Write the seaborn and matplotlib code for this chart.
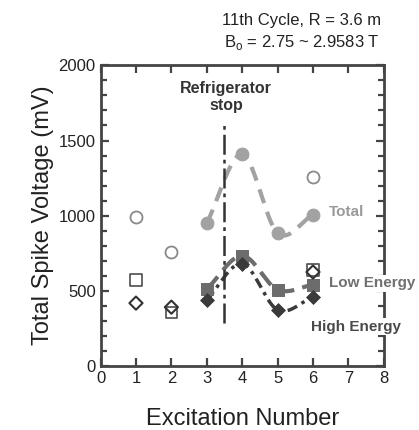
import numpy as np
import matplotlib
matplotlib.use("Agg")
import matplotlib.pyplot as plt
import seaborn as sns
from matplotlib.ticker import MultipleLocator

# open symbols: excitations before / unrelated to the fit
open_x = [1, 2, 6]
open_total = [990, 755, 1258]
open_low = [573, 355, 640]
open_high = [418, 391, 625]

# filled symbols: excitations fitted with the dashed curves
fit_x = [3, 4, 5, 6]
total = [951, 1407, 885, 1007]
low_energy = [511, 733, 507, 540]
high_energy = [440, 680, 373, 458]


def smooth(x, y, n=120):
    # cardinal (Catmull-Rom) spline through the points
    x = np.asarray(x, float)
    y = np.asarray(y, float)
    m = np.gradient(y, x)
    xs, ys = [], []
    for i in range(len(x) - 1):
        h = x[i + 1] - x[i]
        t = np.linspace(0, 1, n)
        h00 = 2 * t**3 - 3 * t**2 + 1
        h10 = t**3 - 2 * t**2 + t
        h01 = -2 * t**3 + 3 * t**2
        h11 = t**3 - t**2
        xs.append(x[i] + t * h)
        ys.append(h00 * y[i] + h10 * h * m[i] + h01 * y[i + 1] + h11 * h * m[i + 1])
    return np.concatenate(xs), np.concatenate(ys)


sns.set_style("ticks")
plt.rcParams["font.family"] = ["Liberation Sans", "DejaVu Sans"]

fig, ax = plt.subplots(figsize=(4.19, 4.30), dpi=100)
fig.subplots_adjust(left=0.24, right=0.916, top=0.848, bottom=0.149)

c_total, c_low, c_high = "#a2a2a2", "#6c6c6c", "#3a3a3a"

# fitted curves
sx, sy = smooth(fit_x, total)
sns.lineplot(x=sx, y=sy, ax=ax, color=c_total, lw=3, linestyle=(0, (3.5, 2.2)), sort=False)
sx, sy = smooth(fit_x, low_energy)
sns.lineplot(x=sx, y=sy, ax=ax, color=c_low, lw=3, linestyle=(0, (4, 2)), sort=False)
sx, sy = smooth(fit_x, high_energy)
sns.lineplot(x=sx, y=sy, ax=ax, color=c_high, lw=2.5, linestyle=(0, (3, 1.5, 1, 1.5)), sort=False)

# filled markers
sns.scatterplot(x=fit_x, y=total, ax=ax, marker="o", s=85, color=c_total, edgecolor=c_total, zorder=5)
sns.scatterplot(x=fit_x, y=low_energy, ax=ax, marker="s", s=80, color=c_low, edgecolor=c_low, zorder=5)
sns.scatterplot(x=fit_x, y=high_energy, ax=ax, marker="D", s=50, color=c_high, edgecolor=c_high, zorder=6)

# open markers
sns.scatterplot(x=open_x, y=open_total, ax=ax, marker="o", s=75, facecolor="white", edgecolor="#8a8a8a", linewidth=1.3, zorder=5)
sns.scatterplot(x=open_x, y=open_low, ax=ax, marker="s", s=70, facecolor="none", edgecolor="#5a5a5a", linewidth=1.3, zorder=5)
sns.scatterplot(x=open_x, y=open_high, ax=ax, marker="D", s=45, facecolor="none", edgecolor="#333333", linewidth=1.5, zorder=6)

# refrigerator stop marker line
ax.plot([3.5, 3.5], [287, 1607], color="#333333", lw=1.8, linestyle=(0, (8, 2, 1.5, 2)))
ax.text(3.55, 1790, "Refrigerator\nstop", ha="center", va="center", fontsize=11.5,
        fontweight="bold", color="#333333", linespacing=1.2)

box = dict(facecolor="white", edgecolor="none", pad=1.0)
ax.text(6.44, 1022, "Total", ha="left", va="center", fontsize=11, fontweight="bold", color="#9a9a9a")
ax.text(6.46, 550, "Low Energy", ha="left", va="center", fontsize=11, fontweight="bold",
        color="#707070", clip_on=False, bbox=box, zorder=10)
ax.text(5.93, 262, "High Energy", ha="left", va="center", fontsize=11, fontweight="bold",
        color="#4a4a4a", clip_on=False, bbox=box, zorder=10)

fig.text(0.72, 0.953, "11th Cycle, R = 3.6 m", ha="center", va="center", fontsize=12, color="#222222")
fig.text(0.72, 0.902, r"B$_\mathregular{o}$ = 2.75 ~ 2.9583 T", ha="center", va="center", fontsize=12, color="#222222")

ax.set_xlim(0, 8)
ax.set_ylim(0, 2000)
ax.xaxis.set_major_locator(MultipleLocator(1))
ax.yaxis.set_major_locator(MultipleLocator(500))
ax.yaxis.set_minor_locator(MultipleLocator(100))
ax.tick_params(which="both", direction="in", top=True, right=True, colors="#444444",
               labelcolor="#222222", labelsize=12, width=1.6)
ax.tick_params(which="major", length=6)
ax.tick_params(which="minor", length=4)
for sp in ax.spines.values():
    sp.set_linewidth(2)
    sp.set_color("#444444")

ax.set_xlabel("Excitation Number", fontsize=17, color="#222222", labelpad=16)
ax.set_ylabel("Total Spike Voltage (mV)", fontsize=17, color="#222222", labelpad=3)

fig.savefig("out.png", dpi=100, facecolor="white")
